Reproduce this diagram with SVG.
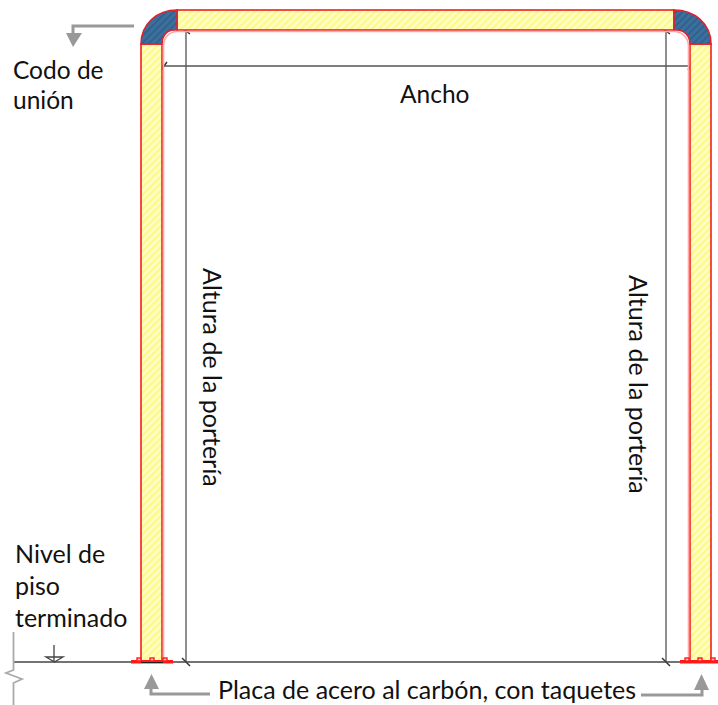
<svg xmlns="http://www.w3.org/2000/svg" width="718" height="705" viewBox="0 0 718 705">
<style>
.lbl{font-family:Lato,"Open Sans","Liberation Sans",sans-serif;font-size:25px;fill:#111}
.ln{stroke:#555;stroke-width:1.3;fill:none}
.tick{stroke:#333;stroke-width:1.5;fill:none}
.gr{stroke:#999;stroke-width:3;fill:none}
.ah{fill:#999}
.st{fill:url(#h);stroke:#f02020;stroke-width:1.6}
.bl{fill:url(#b);stroke:#e02030;stroke-width:1.6}
.halo{fill:none;stroke:#ffa8a8;stroke-width:1.6}
.pl{fill:#ff1a1a}
.plo{fill:#ffd0c0;stroke:#ff1a1a;stroke-width:1.4}
</style>
<defs>
<pattern id="h" width="5" height="5" patternUnits="userSpaceOnUse" patternTransform="rotate(-45)">
<rect width="5" height="5" fill="#fdfb90"/><rect width="5" height="2" fill="#fffdd0"/>
</pattern>
<pattern id="b" width="5" height="5" patternUnits="userSpaceOnUse" patternTransform="rotate(-45)">
<rect width="5" height="5" fill="#3a6f9e"/><rect width="5" height="2" fill="#32628c"/>
</pattern>
</defs>
<g id="connectors">
<path class="ln" d="M160 66H692"/>
<path class="tick" d="M161 70L167 62M688 70L694 62"/>
<path class="ln" d="M186 29V662M666 29V662"/>
<path class="tick" d="M182 28L190 34M662 28L670 34M182 658L190 666M662 658L670 666"/>
<path class="gr" d="M134 26H73V34"/>
<path class="ah" d="M66 33H82L73 47Z"/>
<path class="gr" d="M210 694H151V688"/>
<path class="ah" d="M144 689H159L151.500 674Z"/>
<path class="gr" d="M641 695H702V688"/>
<path class="ah" d="M694 690H709L701.500 674Z"/>
</g>
<g id="nivel">
<path d="M13 662H718" stroke="#444" stroke-width="1.600" fill="none"/>
<path d="M13.500 632V670L6 673L22 679L13.500 683V705" stroke="#aaa" stroke-width="1.800" fill="none"/>
<path d="M54 645V662M46 657H63L54.500 662Z" stroke="#444" stroke-width="1.300" fill="#fff"/>
</g>
<g id="marco">
<rect class="st" x="141" y="44" width="21" height="617"/>
<rect class="st" x="690" y="44" width="21" height="617"/>
<rect class="st" x="177" y="10" width="497" height="20"/>
<path class="bl" d="M141 44C141 24 157 10 177 10V30H174C167 30 162 36 162 44Z"/>
<path class="bl" d="M711 44C711 24 695 10 674 10V30H677C684 30 690 36 690 44Z"/>
<path class="halo" d="M163.500 662V46C163.500 38 169 31.500 177 31.500H674C682 31.500 688.500 38 688.500 46V662"/>
</g>
<g id="placas">
<rect class="pl" x="131" y="660" width="42" height="3.500"/>
<rect class="plo" x="137" y="658" width="4" height="3"/>
<rect class="plo" x="150" y="658" width="4" height="3"/>
<rect class="plo" x="163" y="658" width="4" height="3"/>
<path d="M141 662.500H163" stroke="#222" stroke-width="1"/>
<rect class="pl" x="680" y="660" width="38" height="3.500"/>
<rect class="plo" x="685" y="658" width="4" height="3"/>
<rect class="plo" x="698" y="658" width="4" height="3"/>
<rect class="plo" x="711" y="658" width="4" height="3"/>
</g>
<g id="textos">
<text class="lbl" x="13" y="79" style="font-size:24.500px">Codo de</text>
<text class="lbl" x="13" y="109" style="font-size:24.500px">unión</text>
<text class="lbl" x="400" y="103" style="font-size:24.500px">Ancho</text>
<text class="lbl" x="15" y="563">Nivel de</text>
<text class="lbl" x="15" y="595">piso</text>
<text class="lbl" x="15" y="627">terminado</text>
<text class="lbl" x="218" y="699">Placa de acero al carbón, con taquetes</text>
<text class="lbl" transform="translate(203 268) rotate(90)">Altura de la portería</text>
<text class="lbl" transform="translate(629 275) rotate(90)">Altura de la portería</text>
</g>
</svg>
